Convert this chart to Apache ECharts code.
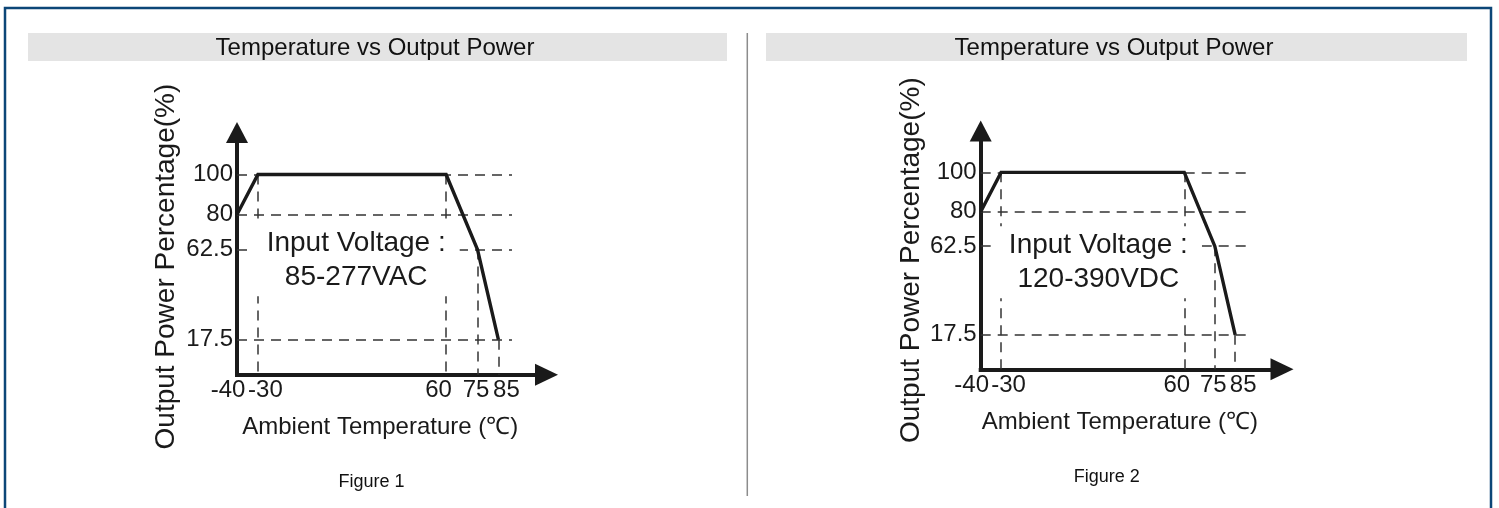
<!DOCTYPE html>
<html>
<head>
<meta charset="UTF-8">
<title>Temperature vs Output Power</title>
<script src="https://cdn.jsdelivr.net/npm/echarts@6/dist/echarts.min.js"></script>
<style>
  html, body { margin: 0; padding: 0; background: #fff; }
  #chart { width: 1499px; height: 508px; }
</style>
</head>
<body>
<div id="chart"></div>
<script>
// derating curve (same for both inputs)
var temps = [-40, -30, 60, 75, 85];
var power = [80, 100, 100, 62.5, 17.5];
var tempTicks = [-40, -30, 60, 75, 85];
var powerTicks = [17.5, 62.5, 80, 100];

var panelTitle = 'Temperature vs Output Power';
var xName = 'Ambient Temperature (℃)';
var yName = 'Output Power Percentage(%)';
var noteHead = 'Input Voltage :';
var inputRanges = ['85-277VAC', '120-390VDC'];
var figures = ['Figure 1', 'Figure 2'];

var ink = '#1a1a1a';
var font = '"Liberation Sans", Arial, sans-serif';

// layout of the two panels (pixels)
var panels = [
  { grid: { left: 237, top: 132.5, width: 309.5, height: 242.2 }, note: [17, 57.2], yGap: 57, yShift: 26,
    bar: 28, barW: 699, titleX: 375, fig: [371.5, 482] },
  { grid: { left: 980.7, top: 131, width: 301.3, height: 238.3 }, note: [17.8, 54.3], yGap: 55, yShift: 20,
    bar: 766, barW: 701, titleX: 1114, fig: [1106.7, 476.7] }
];
// small nudges of the x labels so they sit like the printed figure
var labelNudge = [-9, 7.5, -7.5, -1.5, 8];
var guideEnd = 91.5;

var rich = {};
labelNudge.forEach(function (d, i) {
  rich['s' + i] = { padding: d < 0 ? [0, -2 * d, 0, 0] : [0, 0, 0, 2 * d] };
});

function guides() {
  var segs = [];
  powerTicks.forEach(function (p) {
    segs.push({ coords: [[temps[0], p], [guideEnd, p]] });
  });
  for (var i = 1; i < temps.length; i++) {
    segs.push({ coords: [[temps[i], power[i]], [temps[i], 0]] });
  }
  return segs;
}

var grids = [], xAxes = [], yAxes = [], series = [], graphics = [];

panels.forEach(function (pn, i) {
  grids.push(Object.assign({ containLabel: false, outerBoundsMode: 'none' }, pn.grid));

  xAxes.push({
    type: 'value', gridIndex: i, min: -40, max: 108,
    axisLine: { show: true, onZero: false, symbol: ['none', 'triangle'], symbolSize: [22, 23],
      lineStyle: { color: ink, width: 4, cap: 'square' } },
    axisTick: { show: false }, splitLine: { show: false },
    axisLabel: {
      customValues: tempTicks, margin: 4, fontSize: 24, fontFamily: font, color: ink,
      formatter: function (v) {
        var k = tempTicks.findIndex(function (t) { return Math.abs(t - v) < 1e-6; });
        return '{s' + k + '|' + v + '}';
      },
      rich: rich
    },
    name: xName, nameLocation: 'middle', nameGap: 41, nameMoveOverlap: false,
    nameTextStyle: { fontSize: 24, fontFamily: font, color: ink, padding: [0, 23, 0, 0] }
  });

  yAxes.push({
    type: 'value', gridIndex: i, min: 0, max: 121,
    axisLine: { show: true, onZero: false, symbol: ['none', 'triangle'], symbolSize: [22, 21],
      lineStyle: { color: ink, width: 4, cap: 'square' } },
    axisTick: { show: false }, splitLine: { show: false },
    axisLabel: { customValues: powerTicks, margin: 4, fontSize: 24, fontFamily: font, color: ink },
    name: yName, nameLocation: 'middle', nameGap: pn.yGap, nameMoveOverlap: false,
    nameTextStyle: { fontSize: 28, fontFamily: font, color: ink, padding: [0, pn.yShift, 0, 0] }
  });

  series.push({
    type: 'lines', coordinateSystem: 'cartesian2d', xAxisIndex: i, yAxisIndex: i, z: 2, silent: true,
    lineStyle: { color: '#333', width: 1.5, type: [10, 7], opacity: 1 },
    data: guides()
  });

  // the input voltage note, on a white box that hides the guides behind it
  series.push({
    type: 'custom', xAxisIndex: i, yAxisIndex: i, z: 3, silent: true,
    data: [pn.note],
    renderItem: function (params, api) {
      var p = api.coord([api.value(0), api.value(1)]);
      return {
        type: 'text', x: p[0], y: p[1],
        style: {
          text: noteHead + '\n' + inputRanges[i],
          fill: ink, font: '28px ' + font, lineHeight: 34,
          align: 'center', verticalAlign: 'middle',
          backgroundColor: '#fff', padding: [2, 14]
        }
      };
    }
  });

  series.push({
    type: 'line', xAxisIndex: i, yAxisIndex: i, z: 4, silent: true,
    symbol: 'none',
    lineStyle: { color: ink, width: 3.4, join: 'miter' },
    data: temps.map(function (t, k) { return [t, power[k]]; })
  });

  graphics.push({ type: 'rect', shape: { x: pn.bar, y: 33, width: pn.barW, height: 28 },
    style: { fill: '#e4e4e4' }, z: -10 });
  graphics.push({ type: 'text', x: pn.titleX, y: 48.5,
    style: { text: panelTitle, fill: '#111', font: '24px ' + font,
      align: 'center', verticalAlign: 'middle', textAlign: 'center', textVerticalAlign: 'middle' } });
  graphics.push({ type: 'text', x: pn.fig[0], y: pn.fig[1],
    style: { text: figures[i], fill: '#111', font: '18px ' + font,
      align: 'center', verticalAlign: 'middle', textAlign: 'center', textVerticalAlign: 'middle' } });
});

graphics.push({ type: 'line', shape: { x1: 747.3, y1: 33, x2: 747.3, y2: 496 },
  style: { stroke: '#8c8c8c', lineWidth: 1.5 } });
graphics.push({ type: 'rect', shape: { x: 5, y: 8, width: 1486, height: 520 },
  style: { fill: 'none', stroke: '#0c4677', lineWidth: 2.5 } });

var chart = echarts.init(document.getElementById('chart'), null, { renderer: 'canvas' });
chart.setOption({
  animation: false,
  backgroundColor: '#fff',
  grid: grids,
  xAxis: xAxes,
  yAxis: yAxes,
  series: series,
  graphic: graphics
});
</script>
</body>
</html>
